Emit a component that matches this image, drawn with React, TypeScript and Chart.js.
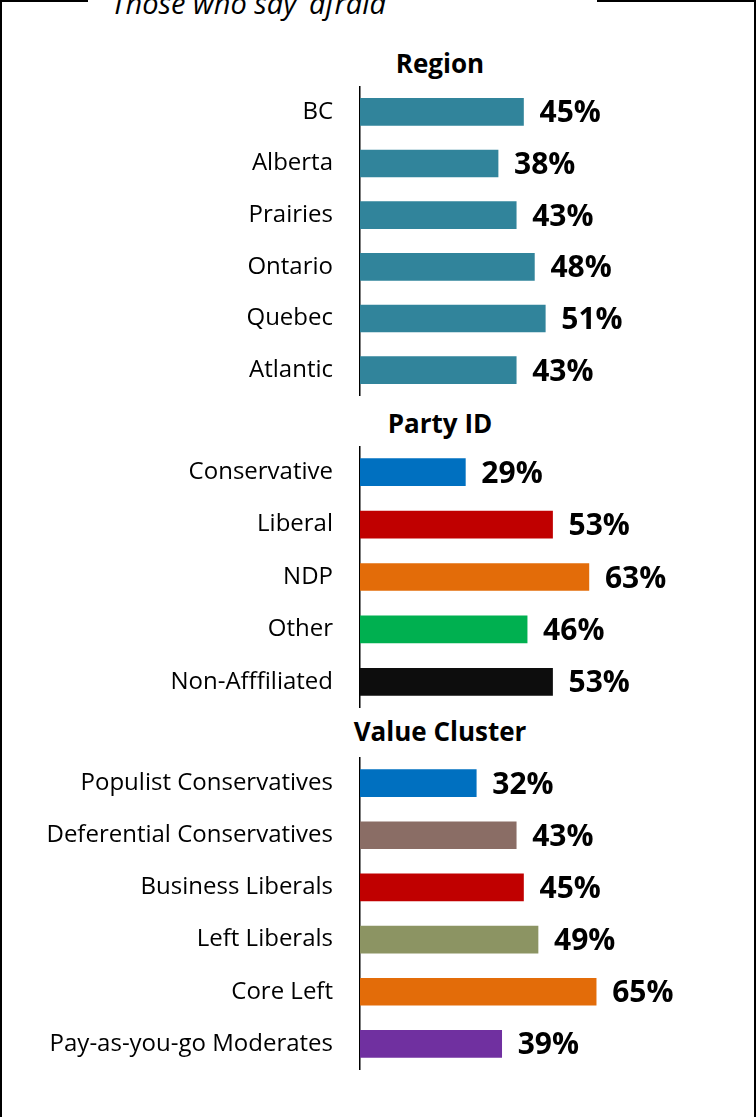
import React, { useEffect, useRef } from "react";
import { Chart, registerables } from "chart.js";

Chart.register(...registerables);

const titleText = "Those who say ‘afraid’";

const regionHeader = "Region";
const regionLabels = ["BC", "Alberta", "Prairies", "Ontario", "Quebec", "Atlantic"];
const regionValues = [45, 38, 43, 48, 51, 43];
const regionColors = ["#31849B", "#31849B", "#31849B", "#31849B", "#31849B", "#31849B"];

const partyHeader = "Party ID";
const partyLabels = ["Conservative", "Liberal", "NDP", "Other", "Non-Afffiliated"];
const partyValues = [29, 53, 63, 46, 53];
const partyColors = ["#0070C0", "#C00000", "#E36C09", "#00B050", "#0D0D0D"];

const clusterHeader = "Value Cluster";
const clusterLabels = [
  "Populist Conservatives",
  "Deferential Conservatives",
  "Business Liberals",
  "Left Liberals",
  "Core Left",
  "Pay-as-you-go Moderates",
];
const clusterValues = [32, 43, 45, 49, 65, 39];
const clusterColors = ["#0070C0", "#8A6D65", "#C00000", "#8C9463", "#E36C09", "#7030A0"];

const valueLabelPlugin = {
  id: "valueLabels",
  afterDatasetsDraw(chart: any) {
    const ctx = chart.ctx;
    const meta = chart.getDatasetMeta(0);
    const data = chart.data.datasets[0].data;
    ctx.save();
    ctx.font = 'bold 30px "Open Sans"';
    ctx.fillStyle = "#000";
    ctx.textAlign = "left";
    ctx.textBaseline = "middle";
    meta.data.forEach((bar: any, i: number) => {
      ctx.fillText(`${data[i]}%`, bar.x + 16, bar.y + 2);
    });
    ctx.restore();
  },
};

function BarPanel(props: { labels: string[]; values: number[]; colors: string[]; top: number; height: number }) {
  const ref = useRef<HTMLCanvasElement | null>(null);
  const { labels, values, colors, top, height } = props;
  useEffect(() => {
    if (!ref.current) return;
    const chart = new Chart(ref.current, {
      type: "bar",
      data: {
        labels,
        datasets: [
          {
            data: values,
            backgroundColor: colors,
            borderWidth: 0,
            barThickness: 27,
          },
        ],
      },
      options: {
        indexAxis: "y",
        responsive: false,
        maintainAspectRatio: false,
        animation: false,
        layout: { padding: 0 },
        plugins: {
          legend: { display: false },
          tooltip: { enabled: false },
          title: { display: false },
        },
        scales: {
          x: { display: false, min: 0, max: 109 },
          y: {
            grid: { display: false, drawTicks: false },
            border: { display: true, color: "#000", width: 1.5 },
            ticks: {
              padding: 27,
              color: "#000",
              font: { family: "Open Sans", size: 24 },
            },
            afterFit: (s: any) => {
              s.width = 360;
              s.paddingTop = 0;
              s.paddingBottom = 0;
            },
          },
        },
      },
      plugins: [valueLabelPlugin],
    } as any);
    return () => chart.destroy();
  }, []);
  return (
    <canvas
      ref={ref}
      width={756}
      height={height}
      style={{ position: "absolute", left: 0, top, width: 756, height, display: "block" }}
    />
  );
}

const headerStyle: React.CSSProperties = {
  position: "absolute",
  left: 340,
  width: 200,
  textAlign: "center",
  fontFamily: "Open Sans",
  fontWeight: 700,
  fontSize: 26,
  lineHeight: "26px",
  color: "#000",
  whiteSpace: "nowrap",
};

export default function App() {
  return (
    <div
      style={{
        position: "fixed",
        left: 0,
        top: 0,
        width: 756,
        height: 1117,
        overflow: "hidden",
        background: "#fff",
      }}
    >
      <div
        style={{
          position: "absolute",
          left: 0,
          top: 0,
          width: 756,
          height: 1117,
          boxSizing: "border-box",
          borderTop: "2px solid #000",
          borderLeft: "2px solid #000",
          borderRight: "2px solid #000",
        }}
      />
      <div
        style={{
          position: "absolute",
          left: 88,
          top: 0,
          width: 509,
          height: 30,
          background: "#fff",
          overflow: "hidden",
        }}
      >
        <span
          style={{
            position: "absolute",
            left: 23,
            top: -12,
            fontFamily: "Open Sans",
            fontStyle: "italic",
            fontSize: 29,
            lineHeight: "29px",
            whiteSpace: "nowrap",
            color: "#000",
          }}
        >
          {titleText}
        </span>
      </div>
      <div style={{ ...headerStyle, top: 50 }}>{regionHeader}</div>
      <div style={{ ...headerStyle, top: 410 }}>{partyHeader}</div>
      <div style={{ ...headerStyle, top: 718 }}>{clusterHeader}</div>
      <BarPanel labels={regionLabels} values={regionValues} colors={regionColors} top={86} height={310} />
      <BarPanel labels={partyLabels} values={partyValues} colors={partyColors} top={446} height={262} />
      <BarPanel labels={clusterLabels} values={clusterValues} colors={clusterColors} top={757} height={313} />
    </div>
  );
}
